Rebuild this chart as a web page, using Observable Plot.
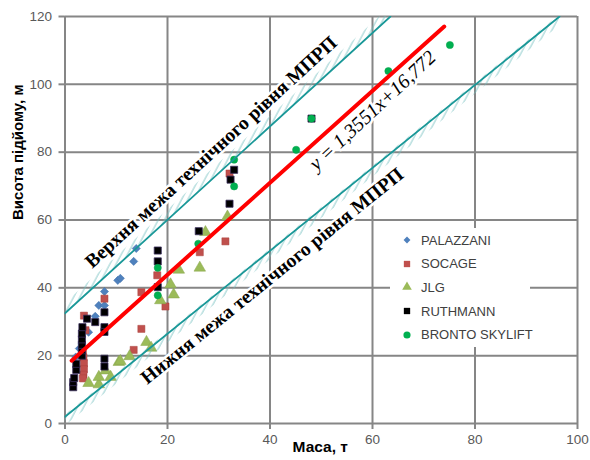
<!DOCTYPE html>
<html><head><meta charset="utf-8">
<script src="https://cdn.jsdelivr.net/npm/d3@7"></script>
<script src="https://cdn.jsdelivr.net/npm/@observablehq/plot@0.6"></script>
<style>
body{margin:0;background:#fff;}
#wrap{position:relative;width:590px;height:460px;overflow:hidden;}
#legend{position:absolute;left:390px;top:228px;width:140px;height:119px;background:#fff;font-family:"Liberation Sans",Arial,sans-serif;font-size:13px;color:#404040;}
.item{position:absolute;left:10px;height:16px;display:flex;align-items:center;white-space:nowrap;}
.item svg{margin-right:7px;}
</style></head><body><div id="wrap"></div>
<script>
// ---- data (mass t, height m) ----
const palazzani = [[2.1,19.6],[2.8,22.1],[3.3,23.5],[4.6,26.9],[5.9,31.6],[6.6,34.8],[7.7,34.8],[7.7,38.9],[10.3,42.2],[10.8,42.8],[13.4,47.8],[13.9,51.6]];
const socage = [[3.7,31.8],[4.0,27.5],[3.5,21.2],[3.6,19.5],[3.7,17.8],[3.7,16],[3.6,14.4],[3.5,13.3],[7.7,36.8],[13.4,21.7],[14.9,27.9],[14.9,38.7],[18,43.7],[19.6,34.5],[26.3,50.5],[31.3,53.7],[32.1,73.7]];
const jlg = [[4.6,11.9],[6.6,11.5],[6.6,13.7],[7.9,15.6],[8.9,13.7],[10.5,18.1],[10.8,18.4],[12.6,19.8],[15.9,24],[16.8,22.3],[18.6,36.3],[20.6,41],[21.2,38],[22.2,45.3],[26.3,45.9],[27.4,56.4],[31.7,61]];
const ruthmann = [[1.6,10.7],[1.6,12.2],[1.8,13.4],[2.2,15.8],[2.2,17.6],[3.3,20],[3.3,21.6],[3.3,23.2],[3.3,24.8],[3.3,26.5],[3.4,28.4],[4.3,30.9],[5.9,29.9],[7.7,32.8],[7.7,28.4],[7.7,27],[7.7,19.1],[7.7,16.8],[18.1,51],[18.1,47.8],[18.1,40.2],[26.1,56.7],[32.1,64.8],[32.3,71.9],[33,74.8],[48.1,89.9]];
const bronto = [[18.1,37.8],[18.1,45.9],[26,53],[33,69.9],[33,77.8],[45.1,80.7],[48.1,89.9],[63.1,103.9],[75.1,111.6]];

const seriesNames = ["PALAZZANI","SOCAGE","JLG","RUTHMANN","BRONTO SKYLIFT"];
const trendSlope = 1.3551, trendIntercept = 16.772;
const trendX = [1.3, 74];
const upperX = [0, 63.5], upperY = [32.5, 120];
const lowerX = [0, 96.5], lowerY = [2, 120];
const xTicks = [0,20,40,60,80,100];
const yTicks = [0,20,40,60,80,100,120];
const labels = {
  upper: {text:"Верхня межа технічного рівня МПРП", x:28.5, y:80},
  lower: {text:"Нижня межа технічного рівня МПРП", x:40.4, y:43.5},
  eq: {text:"y = 1,3551x+16,772", x:60, y:92.3}
};
const xLabel = "Маса, т", yLabel = "Висота підйому, м";

// ---- build ----
const trend = trendX.map(x => ({x, y: trendSlope*x + trendIntercept}));
const upper = upperX.map((x,i) => ({x, y: upperY[i]}));
const lower = lowerX.map((x,i) => ({x, y: lowerY[i]}));
const pts = a => a.map(([x,y]) => ({x,y}));
const grid = "#868686";
const serif = "'Liberation Serif','Times New Roman',serif";
const sans = "'Liberation Sans',Arial,sans-serif";

const plot = Plot.plot({
  width: 590, height: 460,
  marginLeft: 64.5, marginRight: 13, marginTop: 16, marginBottom: 37,
  x: {domain: [0,100]}, y: {domain: [0,120]},
  style: {fontFamily: sans, background: "#fff"},
  marks: [
    Plot.ruleX(xTicks, {stroke: grid, strokeWidth: 2}),
    Plot.ruleY(yTicks, {stroke: grid, strokeWidth: 2}),
    Plot.axisX({ticks: xTicks, tickSize: 6, tickPadding: 5, stroke: grid, strokeWidth: 2, fill: "#595959", fontSize: 13.5, label: null}),
    Plot.axisY({ticks: yTicks, tickSize: 6, tickPadding: 7, stroke: grid, strokeWidth: 2, fill: "#595959", fontSize: 13.5, label: null}),
    Plot.dot(pts(palazzani), {x:"x", y:"y", symbol:"diamond2", r:3.7, fill:"#4F81BD", stroke:"#3f6fa8", strokeWidth:0.5}),
    Plot.dot(pts(socage), {x:"x", y:"y", symbol:"square", r:4, fill:"#C0504D", stroke:"#a8403d", strokeWidth:0.5}),
    Plot.dot(pts(jlg), {x:"x", y:"y", symbol:"triangle", r:4.3, fill:"#9BBB59", stroke:"#86a54a", strokeWidth:0.5}),
    Plot.dot(pts(ruthmann), {x:"x", y:"y", symbol:"square", r:4, fill:"#000", stroke:"#3a2f5c", strokeWidth:0.8}),
    Plot.dot(pts(bronto), {x:"x", y:"y", symbol:"circle", r:3.6, fill:"#00B050", stroke:"#00a048", strokeWidth:0.5}),
    Plot.areaY(upper, {x:"x", y1: d => d.y - 0.4, y2: d => d.y + 2.8, fill:"url(#hatch)", clip:true}),
    Plot.areaY(lower, {x:"x", y1: d => d.y - 2.8, y2: d => d.y + 0.4, fill:"url(#hatch)", clip:true}),
    Plot.line(upper, {x:"x", y:"y", stroke:"#1a9898", strokeWidth:1.8, clip:true}),
    Plot.line(lower, {x:"x", y:"y", stroke:"#1a9898", strokeWidth:1.8, clip:true}),
    Plot.line(trend, {x:"x", y:"y", stroke:"#FF0000", strokeWidth:4}),
    Plot.text([labels.upper], {x:"x", y:"y", text:"text", rotate:-42.4, fontSize:19.5, fontWeight:"bold", fontFamily:serif, fill:"#000", stroke:"#fff", strokeWidth:5}),
    Plot.text([labels.lower], {x:"x", y:"y", text:"text", rotate:-39, fontSize:19.5, fontWeight:"bold", fontFamily:serif, fill:"#000", stroke:"#fff", strokeWidth:5}),
    Plot.text([labels.eq], {x:"x", y:"y", text:"text", rotate:-43, fontSize:20, fontStyle:"italic", fontFamily:serif, fill:"#000", stroke:"#fff", strokeWidth:5}),
    Plot.text([xLabel], {frameAnchor:"bottom", dx:-1, dy:24, lineAnchor:"middle", text:d=>d, fontSize:15.5, fontWeight:"bold", fill:"#000"}),
    Plot.text([yLabel], {frameAnchor:"left", dx:-47, rotate:-90, text:d=>d, fontSize:15, fontWeight:"bold", fill:"#000"})
  ]
});

d3.select(plot).insert("defs", ":first-child").html(
  '<pattern id="hatch" width="5.5" height="6" patternUnits="userSpaceOnUse" patternTransform="rotate(28)">' +
  '<line x1="1" y1="0" x2="1" y2="6" stroke="#72c0c0" stroke-width="0.8"/></pattern>');

const wrap = document.getElementById("wrap");
wrap.appendChild(plot);

// legend overlay
const legendStyles = [
  {sym: d3.symbolDiamond2, size: 30, fill: "#4F81BD"},
  {sym: d3.symbolSquare, size: 40, fill: "#C0504D"},
  {sym: d3.symbolTriangle, size: 40, fill: "#9BBB59"},
  {sym: d3.symbolSquare, size: 40, fill: "#000"},
  {sym: d3.symbolCircle, size: 40, fill: "#00B050"}
];
const leg = document.createElement("div");
leg.id = "legend";
seriesNames.forEach((name, i) => {
  const it = document.createElement("div");
  it.className = "item";
  it.style.top = (4 + i*23.7) + "px";
  const st = legendStyles[i];
  const path = d3.symbol(st.sym, st.size)();
  it.innerHTML = `<svg width="14" height="14" viewBox="-7 -7 14 14"><path d="${path}" fill="${st.fill}"/></svg><span>${name}</span>`;
  leg.appendChild(it);
});
wrap.appendChild(leg);
</script>
</body></html>
